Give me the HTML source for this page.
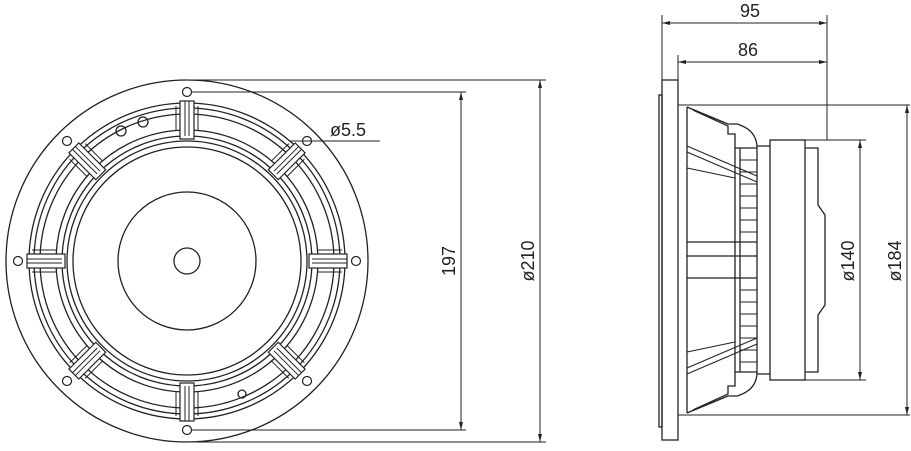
<!DOCTYPE html>
<html><head><meta charset="utf-8"><style>
html,body{margin:0;padding:0;background:#fff;}
svg{display:block;}
text{font-family:"Liberation Sans",sans-serif;font-size:18px;fill:#222;}
</style></head><body>
<svg width="911" height="451" viewBox="0 0 911 451" xmlns="http://www.w3.org/2000/svg">
<defs>
<g id="rib">
  <rect x="-7" y="-160" width="14" height="38" fill="#fff" stroke="#222" stroke-width="1.2"/>
  <line x1="-2" y1="-160" x2="-2" y2="-125" stroke="#222" stroke-width="1"/>
  <line x1="2" y1="-160" x2="2" y2="-125" stroke="#222" stroke-width="1"/>
  <line x1="-11" y1="-155" x2="-11" y2="-130" stroke="#222" stroke-width="1"/>
  <line x1="11" y1="-155" x2="11" y2="-130" stroke="#222" stroke-width="1"/>
</g>
</defs>
<g fill="none" stroke="#222" stroke-width="1.3">
  <!-- front view -->
  <circle cx="187" cy="261" r="181"/>
  <circle cx="187" cy="261" r="158"/>
  <circle cx="187" cy="261" r="153"/>
  <circle cx="187" cy="261" r="147"/>
  <circle cx="187" cy="261" r="131"/>
  <circle cx="187" cy="261" r="125"/>
  <circle cx="187" cy="261" r="120"/>
  <circle cx="187" cy="261" r="114"/>
  <circle cx="187" cy="261" r="69"/>
  <circle cx="187" cy="261" r="13"/>
  <g stroke-width="1.2">
    <circle cx="187" cy="92" r="4.5"/>
    <circle cx="187" cy="430" r="4.5"/>
    <circle cx="18" cy="261" r="4.5"/>
    <circle cx="356" cy="261" r="4.5"/>
    <circle cx="67" cy="141" r="4.5"/>
    <circle cx="307" cy="141" r="4.5"/>
    <circle cx="67" cy="381" r="4.5"/>
    <circle cx="307" cy="381" r="4.5"/>
  </g>
  <g transform="translate(187,261)">
    <use href="#rib" transform="rotate(0)"/>
    <use href="#rib" transform="rotate(45)"/>
    <use href="#rib" transform="rotate(90)"/>
    <use href="#rib" transform="rotate(135)"/>
    <use href="#rib" transform="rotate(180)"/>
    <use href="#rib" transform="rotate(225)"/>
    <use href="#rib" transform="rotate(270)"/>
    <use href="#rib" transform="rotate(315)"/>
  </g>
  <circle cx="121" cy="131" r="5"/>
  <circle cx="143" cy="122" r="5"/>
  <circle cx="242" cy="394" r="4"/>
  <!-- dimension lines front -->
  <line x1="187" y1="80" x2="546" y2="80" stroke-width="1"/>
  <line x1="187" y1="442" x2="546" y2="442" stroke-width="1"/>
  <line x1="191" y1="92" x2="466" y2="92" stroke-width="1"/>
  <line x1="191" y1="430" x2="466" y2="430" stroke-width="1"/>
  <line x1="461" y1="92" x2="461" y2="430" stroke-width="1"/>
  <line x1="540" y1="80" x2="540" y2="442" stroke-width="1"/>
  <line x1="290" y1="141" x2="380" y2="141" stroke-width="1"/>

  <!-- side view -->
  <rect x="659" y="95" width="3" height="332"/>
  <rect x="662" y="80" width="16" height="360"/>
  <line x1="678" y1="105" x2="910" y2="105" stroke-width="1"/>
  <line x1="678" y1="415" x2="910" y2="415" stroke-width="1"/>
  <line x1="687" y1="107" x2="687" y2="413"/>
  <path d="M687,107 L728,124 L737,124 Q757,130 757,148 L757,372 Q757,390 737,396 L728,396 L687,413"/>
  <path d="M693,110 L728,126 L728,134 L735,134 L735,148 L757,148"/>
  <path d="M693,410 L728,394 L728,386 L735,386 L735,372 L757,372"/>
  <line x1="735" y1="148" x2="735" y2="372"/>
  <line x1="740" y1="148" x2="740" y2="372"/>
  <line x1="687" y1="242" x2="757" y2="242"/>
  <line x1="687" y1="256" x2="757" y2="256"/>
  <line x1="687" y1="278" x2="757" y2="278"/>
  <line x1="687" y1="146" x2="757" y2="176" stroke-width="1"/>
  <line x1="687" y1="152" x2="757" y2="182" stroke-width="1"/>
  <line x1="687" y1="168" x2="735" y2="178" stroke-width="1"/>
  <line x1="687" y1="374" x2="757" y2="344" stroke-width="1"/>
  <line x1="687" y1="368" x2="757" y2="338" stroke-width="1"/>
  <line x1="687" y1="352" x2="735" y2="342" stroke-width="1"/>
  <g stroke-width="1">
    <line x1="740" y1="160" x2="757" y2="160"/><line x1="740" y1="172" x2="757" y2="172"/>
    <line x1="740" y1="184" x2="757" y2="184"/><line x1="740" y1="196" x2="757" y2="196"/>
    <line x1="740" y1="208" x2="757" y2="208"/><line x1="740" y1="220" x2="757" y2="220"/>
    <line x1="740" y1="232" x2="757" y2="232"/><line x1="740" y1="290" x2="757" y2="290"/>
    <line x1="740" y1="302" x2="757" y2="302"/><line x1="740" y1="314" x2="757" y2="314"/>
    <line x1="740" y1="326" x2="757" y2="326"/><line x1="740" y1="338" x2="757" y2="338"/>
    <line x1="740" y1="350" x2="757" y2="350"/><line x1="740" y1="362" x2="757" y2="362"/>
  </g>
  <line x1="757" y1="146" x2="770" y2="146"/>
  <line x1="757" y1="374" x2="770" y2="374"/>
  <rect x="770" y="140" width="35" height="240"/>
  <path d="M805,148 L818,148 L818,205 L825,215 L825,305 L818,315 L818,372 L805,372"/>
  <line x1="805" y1="140" x2="866" y2="140" stroke-width="1"/>
  <line x1="805" y1="380" x2="866" y2="380" stroke-width="1"/>
  <line x1="860" y1="140" x2="860" y2="380" stroke-width="1"/>
  <line x1="907" y1="105" x2="907" y2="415" stroke-width="1"/>
  <!-- 95 / 86 -->
  <line x1="662" y1="15" x2="662" y2="80" stroke-width="1"/>
  <line x1="678" y1="55" x2="678" y2="80" stroke-width="1"/>
  <line x1="827" y1="15" x2="827" y2="140" stroke-width="1"/>
  <line x1="662" y1="23" x2="827" y2="23" stroke-width="1"/>
  <line x1="678" y1="62" x2="827" y2="62" stroke-width="1"/>
</g>
<g fill="#222">
  <path d="M461,92 l-2,8 l4,0z M461,430 l-2,-8 l4,0z"/>
  <path d="M540,80 l-2,8 l4,0z M540,442 l-2,-8 l4,0z"/>
  <path d="M860,140 l-2,8 l4,0z M860,380 l-2,-8 l4,0z"/>
  <path d="M907,105 l-2,8 l4,0z M907,415 l-2,-8 l4,0z"/>
  <path d="M662,23 l8,-2 l0,4z M827,23 l-8,-2 l0,4z"/>
  <path d="M678,62 l8,-2 l0,4z M827,62 l-8,-2 l0,4z"/>
</g>
<text x="330" y="136">ø5.5</text>
<text x="740" y="17">95</text>
<text x="738" y="56">86</text>
<text transform="translate(455,261) rotate(-90)" text-anchor="middle">197</text>
<text transform="translate(534,261) rotate(-90)" text-anchor="middle">ø210</text>
<text transform="translate(854,261) rotate(-90)" text-anchor="middle">ø140</text>
<text transform="translate(901,261) rotate(-90)" text-anchor="middle">ø184</text>
</svg>
</body></html>
